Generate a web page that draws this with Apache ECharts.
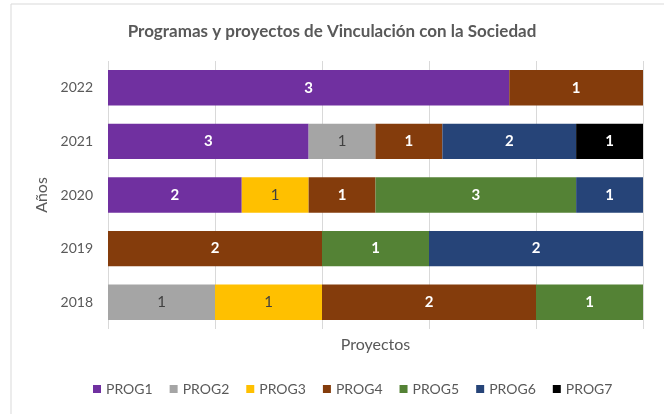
<!DOCTYPE html>
<html>
<head>
<meta charset="utf-8">
<script src="https://cdn.jsdelivr.net/npm/echarts@6/dist/echarts.min.js"></script>
<style>
  html, body { margin: 0; padding: 0; background: #fff; }
  #chart { width: 664px; height: 414px; }
</style>
</head>
<body>
<div id="chart"></div>
<script>
// years, bottom to top
var years = ['2018', '2019', '2020', '2021', '2022'];
var progNames = ['PROG1', 'PROG2', 'PROG3', 'PROG4', 'PROG5', 'PROG6', 'PROG7'];
var prog1 = [0, 0, 2, 3, 3];
var prog2 = [1, 0, 0, 1, 0];
var prog3 = [1, 0, 1, 0, 0];
var prog4 = [2, 2, 1, 1, 1];
var prog5 = [1, 1, 3, 0, 0];
var prog6 = [0, 2, 1, 2, 0];
var prog7 = [0, 0, 0, 1, 0];
var progValues = [prog1, prog2, prog3, prog4, prog5, prog6, prog7];
var progColors = ['#7030A0', '#A5A5A5', '#FFC000', '#843C0C', '#548235', '#264478', '#000000'];
var darkLabel = [false, true, true, false, false, false, false];

// totals per year for the 100% stack
var totals = years.map(function (y, i) {
    var s = 0;
    progValues.forEach(function (arr) { s += arr[i]; });
    return s;
});

var font = 'Lato, "Liberation Sans", sans-serif';

var series = progNames.map(function (name, k) {
    return {
        name: name,
        type: 'bar',
        stack: 'total',
        barWidth: '66%',
        itemStyle: { color: progColors[k] },
        label: {
            show: true,
            color: darkLabel[k] ? '#404040' : '#ffffff',
            fontWeight: darkLabel[k] ? 'normal' : 'bold',
            fontSize: 15,
            fontFamily: font,
            formatter: function (p) {
                var raw = progValues[k][p.dataIndex];
                return raw ? String(raw) : '';
            }
        },
        data: progValues[k].map(function (v, i) {
            return v / totals[i] * 100;
        })
    };
});

var myChart = echarts.init(document.getElementById('chart'));
var option = {
    animation: false,
    backgroundColor: '#ffffff',
    textStyle: { fontFamily: font },
    graphic: [{
        type: 'rect',
        shape: { x: 11, y: 4, width: 720, height: 500 },
        style: { fill: 'none', stroke: '#d9d9d9', lineWidth: 1 },
        silent: true
    }],
    title: {
        text: 'Programas y proyectos de Vinculación con la Sociedad',
        left: 'center',
        top: 18,
        textStyle: { fontSize: 17, fontWeight: 'bold', color: '#595959', fontFamily: font }
    },
    legend: {
        data: progNames,
        bottom: 13,
        left: 88,
        icon: 'rect',
        itemWidth: 8,
        itemHeight: 8,
        itemGap: 17,
        textStyle: { fontSize: 14, color: '#595959', fontFamily: font }
    },
    grid: {
        left: 108,
        right: 21,
        top: 61,
        bottom: 85
    },
    xAxis: {
        type: 'value',
        min: 0,
        max: 100,
        interval: 20,
        name: 'Proyectos',
        nameLocation: 'middle',
        nameGap: 8,
        nameTextStyle: { fontSize: 16, color: '#595959', fontFamily: font },
        axisLabel: { show: false },
        axisLine: { show: false },
        axisTick: { show: false },
        splitLine: { lineStyle: { color: '#d9d9d9' } }
    },
    yAxis: {
        type: 'category',
        data: years,
        name: 'Años',
        nameLocation: 'middle',
        nameGap: 40,
        nameTextStyle: { fontSize: 16, color: '#595959', fontFamily: font },
        axisLine: { show: false },
        axisTick: { show: false },
        axisLabel: { fontSize: 14, color: '#595959', margin: 15, fontFamily: font }
    },
    series: series
};
myChart.setOption(option);
</script>
</body>
</html>
